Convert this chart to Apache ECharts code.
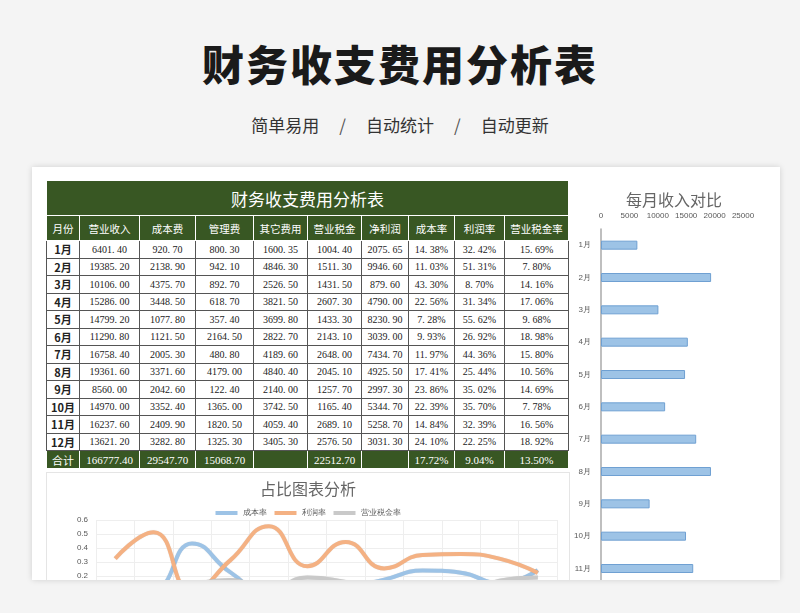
<!DOCTYPE html>
<html><head><meta charset="utf-8">
<script src="https://cdn.jsdelivr.net/npm/echarts@6/dist/echarts.min.js"></script>
<style>
html,body{margin:0;padding:0;width:800px;height:613px;overflow:hidden;background:#f4f4f4;font-family:"Noto Sans CJK SC","Noto Sans",sans-serif;}
#title{position:absolute;left:0;width:800px;top:32px;text-align:center;font-size:42px;font-weight:900;color:#1a1a1a;letter-spacing:2px;}
#sub{position:absolute;left:0;width:800px;top:112px;text-align:center;font-size:17px;color:#333;}
#sub span{margin:0 20px;color:#555}
#card{position:absolute;left:32px;top:167px;width:748px;height:413px;background:#fff;box-shadow:0 0 6px rgba(0,0,0,0.15);overflow:hidden;}
#tbl{position:absolute;left:14px;top:13px;border-collapse:collapse;table-layout:fixed;width:522px;font-family:"Liberation Serif","Noto Sans CJK SC",serif;}
#tbl td{border:1px solid #555;text-align:center;font-size:10px;color:#222;padding:0;height:16.5px;white-space:nowrap;overflow:hidden;}
#tbl tr.h td{background:#385723;color:#fff;font-family:"Noto Sans CJK SC";font-size:10.5px;height:24px;border-color:#fff;}
#tbl tr.t td{background:#385723;color:#fff;font-size:11px;height:17px;border-color:#fff;}
#tbl tr.c td{background:#385723;color:#fff;font-size:17px;height:34px;font-family:"Noto Sans CJK SC";border-color:#fff;}
#tbl td.m{font-family:"Noto Sans CJK SC";font-weight:bold;font-size:11px;}
#line{position:absolute;left:14px;top:305px;width:522px;height:140px;border:1px solid #e5e5e5;}
#bar{position:absolute;left:536px;top:0px;width:212px;height:460px;}
</style></head>
<body>
<div id="title">财务收支费用分析表</div>
<div id="sub">简单易用<span>/</span>自动统计<span>/</span>自动更新</div>
<div id="card">
<table id="tbl"></table>
<div id="line"></div>
<div id="bar"></div>
</div>
<script>
const months=["1月","2月","3月","4月","5月","6月","7月","8月","9月","10月","11月","12月"];
const headers=["月份","营业收入","成本费","管理费","其它费用","营业税金","净利润","成本率","利润率","营业税金率"];
const income=[6401.40,19385.20,10106.00,15286.00,14799.20,11290.80,16758.40,19361.60,8560.00,14970.00,16237.60,13621.20];
const cost=[920.70,2138.90,4375.70,3448.50,1077.80,1121.50,2005.30,3371.60,2042.60,3352.40,2409.90,3282.80];
const mgmt=[800.30,942.10,892.70,618.70,357.40,2164.50,480.80,4179.00,122.40,1365.00,1820.50,1325.30];
const other=[1600.35,4846.30,2526.50,3821.50,3699.80,2822.70,4189.60,4840.40,2140.00,3742.50,4059.40,3405.30];
const tax=[1004.40,1511.30,1431.50,2607.30,1433.30,2143.10,2648.00,2045.10,1257.70,1165.40,2689.10,2576.50];
const profit=[2075.65,9946.60,879.60,4790.00,8230.90,3039.00,7434.70,4925.50,2997.30,5344.70,5258.70,3031.30];
const costRate=[14.38,11.03,43.30,22.56,7.28,9.93,11.97,17.41,23.86,22.39,14.84,24.10];
const profitRate=[32.42,51.31,8.70,31.34,55.62,26.92,44.36,25.44,35.02,35.70,32.39,22.25];
const taxRate=[15.69,7.80,14.16,17.06,9.68,18.98,15.80,10.56,14.69,7.78,16.56,18.92];
const totals=["合计","166777.40","29547.70","15068.70","","22512.70","","17.72%","9.04%","13.50%"];

const widths=[33,60,56,58,54,54,47,46,50,64];
const f=v=>v.toFixed(2).replace('.','. ');
let h='<colgroup>'+widths.map(w=>`<col style="width:${w}px">`).join('')+'</colgroup>';
h+='<tr class="c"><td colspan="10">财务收支费用分析表</td></tr><tr class="h">'+headers.map(x=>`<td>${x}</td>`).join('')+'</tr>';
months.forEach((m,i)=>{
  h+=`<tr><td class="m">${m}</td><td>${f(income[i])}</td><td>${f(cost[i])}</td><td>${f(mgmt[i])}</td><td>${f(other[i])}</td><td>${f(tax[i])}</td><td>${f(profit[i])}</td><td>${f(costRate[i])}%</td><td>${f(profitRate[i])}%</td><td>${f(taxRate[i])}%</td></tr>`;
});
h+='<tr class="t">'+totals.map(x=>`<td>${x}</td>`).join('')+'</tr>';
document.getElementById('tbl').innerHTML=h;

const gray='#595959';
const bar=echarts.init(document.getElementById('bar'));
bar.setOption({
  animation:false,
  title:{text:'每月收入对比',left:'center',top:20,textStyle:{fontSize:16,fontWeight:'normal',color:'#666',fontFamily:'Noto Sans CJK SC'}},
  grid:{left:33,right:37,top:62,height:388,containLabel:false},
  xAxis:{type:'value',position:'top',min:0,max:25000,interval:5000,splitLine:{show:false},axisLine:{show:false},axisTick:{show:false},
    axisLabel:{fontSize:8,color:gray,margin:9,formatter:v=>String(v)}},
  yAxis:{type:'category',data:months,inverse:true,axisLine:{lineStyle:{color:'#aaa',width:1.5}},axisTick:{show:false},axisLabel:{fontSize:8,color:gray,margin:10}},
  series:[{type:'bar',data:income,barWidth:9,itemStyle:{color:'#9dc3e6',borderColor:'#6fa0d2',borderWidth:1}}]
});

const line=echarts.init(document.getElementById('line'));
const pct=a=>a.map(v=>+(v/100).toFixed(4));
const ls=(name,data,c)=>({name,type:'line',smooth:0.5,data:pct(data),symbol:'none',
  lineStyle:{color:c,width:4,shadowColor:'rgba(0,0,0,0.15)',shadowBlur:1},itemStyle:{color:c}});
line.setOption({
  animation:false,
  title:{text:'占比图表分析',left:'center',top:3,textStyle:{fontSize:16,fontWeight:'normal',color:'#666',fontFamily:'Noto Sans CJK SC'}},
  legend:{top:31,itemWidth:22,itemHeight:4,itemGap:8,textStyle:{fontSize:8,color:gray},icon:'rect'},
  grid:{left:49,right:12,top:47,height:84},
  xAxis:{type:'category',data:months,axisLabel:{show:false},axisTick:{show:false},splitLine:{show:true,lineStyle:{color:'#eee'}},axisLine:{lineStyle:{color:'#ddd'}}},
  yAxis:{type:'value',min:0,max:0.6,interval:0.1,axisLabel:{fontSize:8,color:gray,formatter:v=>v.toFixed(1)},splitLine:{lineStyle:{color:'#eee'}}},
  series:[ls('成本率',costRate,'#9dc3e6'),ls('利润率',profitRate,'#f4b183'),ls('营业税金率',taxRate,'#c9c9c9')]
});
</script>
</body></html>
